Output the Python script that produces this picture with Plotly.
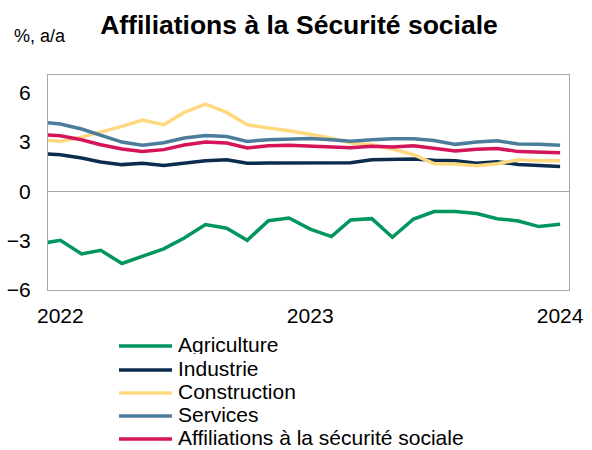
import pandas as pd
import plotly.graph_objects as go

# Monthly observations, Dec 2021 (partly clipped at left edge) to Jan 2024
months = pd.date_range("2021-12-01", "2024-01-01", freq="MS")

agriculture = [-3.2, -2.98, -3.81, -3.59, -4.39, -3.95, -3.5, -2.84, -2.03, -2.25, -2.98,
               -1.79, -1.63, -2.3, -2.76, -1.75, -1.67, -2.8, -1.69, -1.24, -1.24,
               -1.36, -1.67, -1.81, -2.15, -2.01]
industrie = [2.3, 2.21, 2.01, 1.77, 1.61, 1.69, 1.56, 1.71, 1.85, 1.91, 1.69, 1.71, 1.71,
             1.71, 1.71, 1.73, 1.91, 1.91, 1.95, 1.87, 1.84, 1.69, 1.79, 1.62, 1.54, 1.5]
construction = [3.15, 3.02, 3.28, 3.57, 3.93, 4.31, 4.03, 4.78, 5.28, 4.78, 4.03, 3.83,
                3.67, 3.45, 3.22, 2.92, 2.82, 2.56, 2.21, 1.67, 1.65, 1.54, 1.66, 1.91,
                1.85, 1.85]
services = [4.2, 4.07, 3.77, 3.38, 2.98, 2.78, 2.94, 3.22, 3.38, 3.32, 3.02, 3.12, 3.18,
            3.2, 3.12, 3.03, 3.12, 3.18, 3.18, 3.08, 2.84, 2.98, 3.06, 2.86, 2.85, 2.78]
affiliations = [3.45, 3.36, 3.12, 2.82, 2.56, 2.41, 2.52, 2.8, 2.98, 2.92, 2.62, 2.76,
                2.78, 2.74, 2.72, 2.64, 2.72, 2.68, 2.76, 2.62, 2.43, 2.54, 2.59, 2.4,
                2.37, 2.33]

series = [
    ("Agriculture", agriculture, "#00965E"),
    ("Industrie", industrie, "#0C2C4E"),
    ("Construction", construction, "#FFD980"),
    ("Services", services, "#4C7C9C"),
    ("Affiliations à la sécurité sociale", affiliations, "#D5145A"),
]

tick_dates = ["2022-01-01", "2023-01-01", "2024-01-01"]
tick_text = ["2022", "2023", "2024"]
y_ticks = [-6, -3, 0, 3, 6]

FONT = "Liberation Sans, Arial, sans-serif"

# plot-area geometry (px) used to place the hand-drawn legend
W, H = 592, 450
ML, MR, MT, MB = 48, 23, 75, 160
PW, PH = W - ML - MR, H - MT - MB


def px_x(px):
    return (px - ML) / PW


def px_y(py):
    return (H - MB - py) / PH


fig = go.Figure()
for name, vals, col in series:
    fig.add_trace(go.Scatter(x=months, y=vals, name=name, mode="lines",
                             line=dict(color=col, width=3.5), showlegend=False))

fig.update_layout(
    width=W, height=H,
    margin=dict(l=ML, r=MR, t=MT, b=MB, autoexpand=False),
    paper_bgcolor="white", plot_bgcolor="white",
    font=dict(family=FONT, color="black", size=21),
    showlegend=False,
    title=dict(text="<b>Affiliations à la Sécurité sociale</b>",
               x=0.505, xanchor="center", y=1 - 25 / H, yanchor="middle",
               font=dict(size=26.5, family=FONT, color="black")),
)

fig.update_xaxes(type="date", range=["2021-12-14", "2024-01-14"],
                 tickvals=tick_dates, ticktext=tick_text, automargin=False,
                 showgrid=False, showline=True, mirror=True,
                 linecolor="#A6A6A6", linewidth=1, ticks="",
                 tickfont=dict(size=21), ticklabelstandoff=7, zeroline=False)
fig.update_yaxes(range=[-6, 7.05], tickvals=y_ticks, automargin=False,
                 showgrid=False, showline=True, mirror=True,
                 linecolor="#A6A6A6", linewidth=1, ticks="",
                 zeroline=True, zerolinecolor="#A6A6A6", zerolinewidth=1,
                 tickfont=dict(size=21), ticklabelstandoff=12)

fig.add_annotation(text="%, a/a", xref="paper", yref="paper",
                   x=px_x(12), xanchor="left", y=px_y(36), yanchor="middle",
                   showarrow=False, font=dict(size=18, family=FONT))

# legend (hand-drawn so that key length and row spacing match the original)
row_y = [346, 370, 393, 416, 439]
for (name, vals, col), ry in zip(series, row_y):
    fig.add_shape(type="line", xref="paper", yref="paper",
                  x0=px_x(119), x1=px_x(172), y0=px_y(ry), y1=px_y(ry),
                  line=dict(color=col, width=3.5))
    fig.add_annotation(text=name, xref="paper", yref="paper",
                       x=px_x(177), xanchor="left", y=px_y(ry), yanchor="middle",
                       yshift=2, height=20, borderpad=0, valign="middle",
                       showarrow=False, font=dict(size=21, family=FONT))

fig.write_html("out.html")
